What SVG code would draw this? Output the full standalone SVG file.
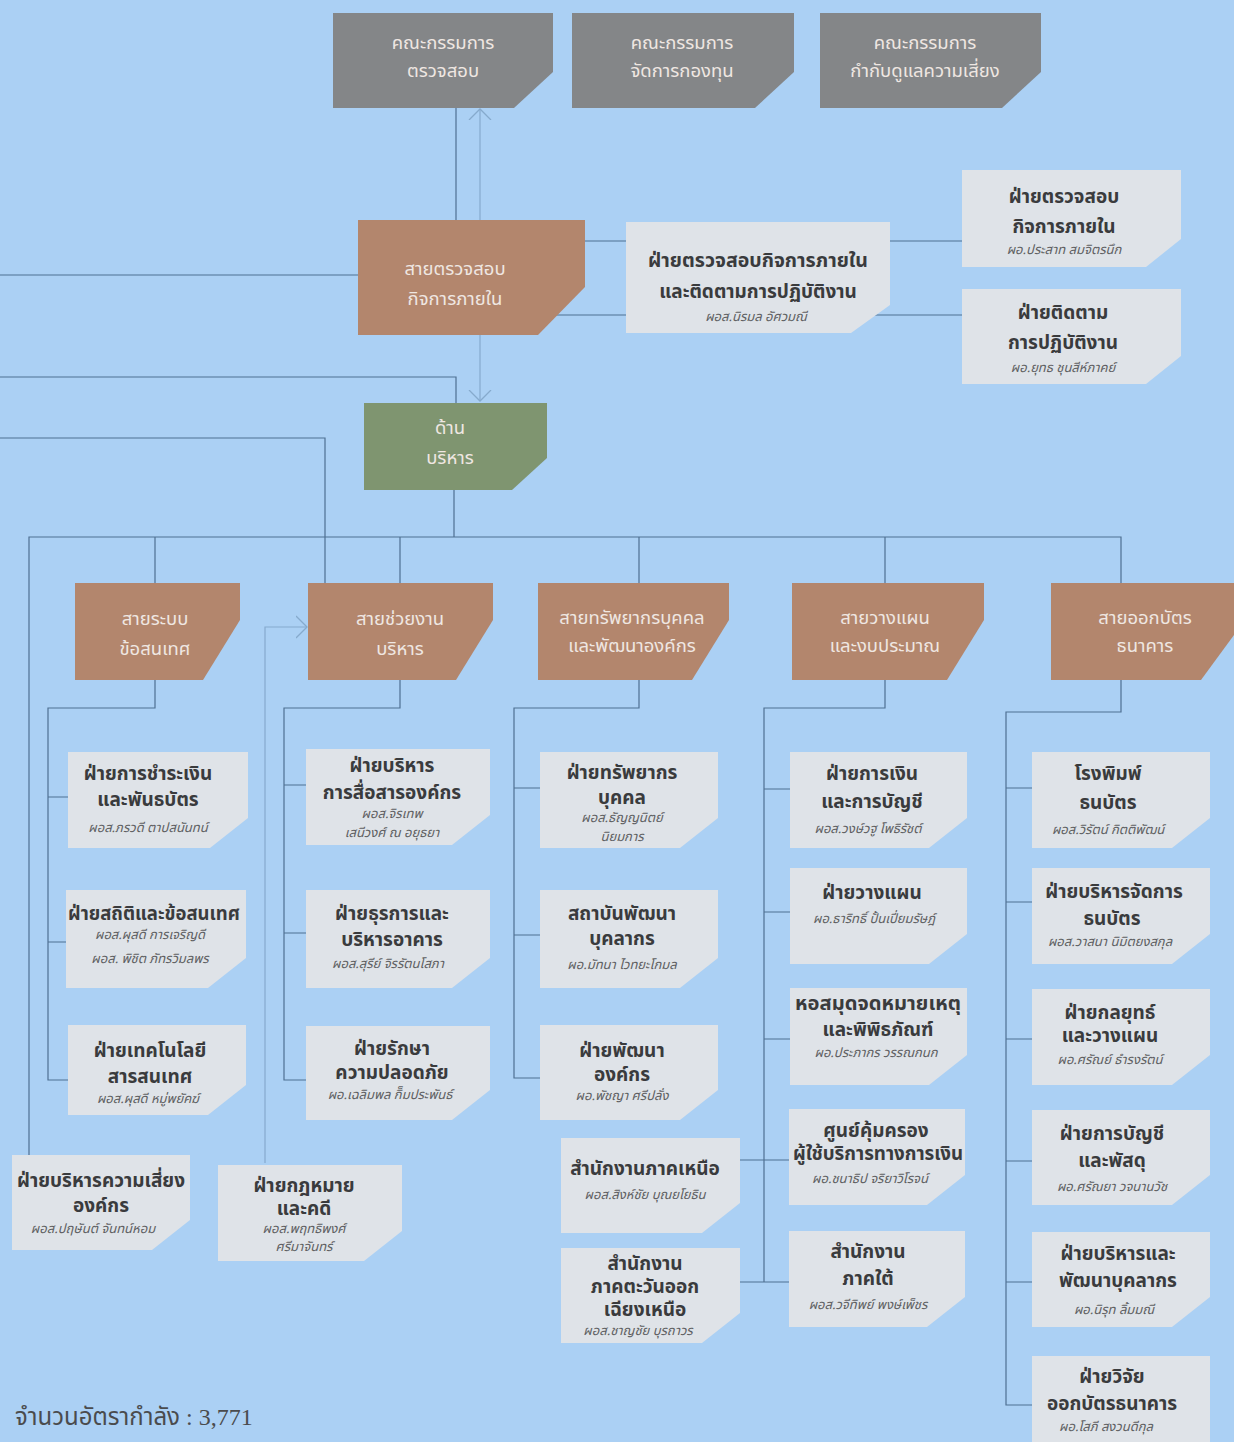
<svg xmlns="http://www.w3.org/2000/svg" width="1234" height="1442" viewBox="0 0 1234 1442">
<defs>
<style>
.gray{fill:#848688}
.brown{fill:#b3866d}
.green{fill:#7f9570}
.light{fill:#dfe3e8}
.conn{stroke:#4f7092;stroke-width:1.2;fill:none}
.conn2{stroke:#86aacd;stroke-width:1.2;fill:none}
text{font-family:"Noto Sans Thai","Noto Sans","DejaVu Sans",sans-serif;text-anchor:middle}
.tw{font-size:18.5px;fill:#efe7e2}
.tt{font-size:19px;fill:#3a3b3d;font-weight:bold}
.tn{font-size:13px;fill:#5e5f62;font-style:italic}
.foot{font-family:"Liberation Serif","Noto Sans Thai",serif;font-size:24px;fill:#4a4b4d;text-anchor:start}
</style>
<marker id="chev" viewBox="0 0 12 24" refX="11" refY="12" markerWidth="12" markerHeight="24" markerUnits="userSpaceOnUse" orient="auto-start-reverse">
<path d="M0,1 L11,12 L0,23" fill="none" stroke="#86aacd" stroke-width="1.3"/>
</marker>
</defs>
<rect width="1234" height="1442" fill="#abd0f4"/>

<g id="connectors">
<path class="conn" d="M456,108 V220"/>
<path class="conn2" d="M480,109 V401" marker-start="url(#chev)" marker-end="url(#chev)"/>
<path class="conn" d="M0,275 H358"/>
<path class="conn" d="M0,377 H456 V403"/>
<path class="conn" d="M0,438 H325 V583"/>
<path class="conn" d="M540,241 H626 M540,315 H626"/>
<path class="conn" d="M880,241 H962 M820,315 H962"/>
<path class="conn" d="M454,490 V537 M29,1155 V537 H1121 V583 M155,537 V583 M400,537 V583 M639,537 V583 M885,537 V583"/>
<path class="conn2" d="M265,1163 V627 H307" marker-end="url(#chev)"/>
<path class="conn" d="M155,680 V708 H48 V1080 H68 M48,797 H68 M48,942 H68"/>
<path class="conn" d="M400,680 V708 H284 V1080 H306 M284,785 H306 M284,933 H306"/>
<path class="conn" d="M639,680 V708 H514 V1078 H540 M514,788 H540 M514,935 H540"/>
<path class="conn" d="M885,680 V708 H764 V1282 M764,789 H790 M764,912 H790 M764,1039 H790 M740,1160 H789 M740,1282 H789"/>
<path class="conn" d="M1121,680 V712 H1006 V1405 H1032 M1006,788 H1032 M1006,902 H1032 M1006,1039 H1032 M1006,1161 H1032 M1006,1282 H1032"/>
</g>

<g id="n-audit-committee">
<polygon class="gray" points="333,13 553,13 553,72 514,108 333,108"/>
<text class="tw" x="443" y="49">คณะกรรมการ</text>
<text class="tw" x="443" y="77">ตรวจสอบ</text>
</g>
<g id="n-fund-committee">
<polygon class="gray" points="572,13 794,13 794,72 755,108 572,108"/>
<text class="tw" x="682" y="49">คณะกรรมการ</text>
<text class="tw" x="682" y="77">จัดการกองทุน</text>
</g>
<g id="n-risk-committee">
<polygon class="gray" points="820,13 1041,13 1041,72 1002,108 820,108"/>
<text class="tw" x="925" y="49">คณะกรรมการ</text>
<text class="tw" x="925" y="77">กำกับดูแลความเสี่ยง</text>
</g>

<g id="n-internal-audit-line">
<polygon class="brown" points="358,220 585,220 585,287 538,335 358,335"/>
<text class="tw" x="455" y="275">สายตรวจสอบ</text>
<text class="tw" x="455" y="305">กิจการภายใน</text>
</g>
<g id="n-audit-dept">
<polygon class="light" points="626,222 890,222 890,305 851,333 626,333"/>
<text class="tt" x="758" y="267" textLength="220" lengthAdjust="spacingAndGlyphs">ฝ่ายตรวจสอบกิจการภายใน</text>
<text class="tt" x="758" y="298">และติดตามการปฏิบัติงาน</text>
<text class="tn" x="756" y="321">ผอส.นิรมล อัศวมณี</text>
</g>
<g id="n-audit-sub">
<polygon class="light" points="962,170 1181,170 1181,239 1146,267 962,267"/>
<text class="tt" x="1064" y="203">ฝ่ายตรวจสอบ</text>
<text class="tt" x="1064" y="233">กิจการภายใน</text>
<text class="tn" x="1064" y="254">ผอ.ประสาท สมจิตรนึก</text>
</g>
<g id="n-follow-sub">
<polygon class="light" points="962,289 1181,289 1181,356 1146,384 962,384"/>
<text class="tt" x="1063" y="319">ฝ่ายติดตาม</text>
<text class="tt" x="1063" y="349">การปฏิบัติงาน</text>
<text class="tn" x="1063" y="372">ผอ.ยุทธ ชุนสีห์ภาคย์</text>
</g>

<g id="n-admin">
<polygon class="green" points="364,403 547,403 547,458 512,490 364,490"/>
<text class="tw" x="450" y="434">ด้าน</text>
<text class="tw" x="450" y="464">บริหาร</text>
</g>

<g id="n-it-line">
<polygon class="brown" points="75,583 240,583 240,620 203,680 75,680"/>
<text class="tw" x="155" y="625">สายระบบ</text>
<text class="tw" x="155" y="655">ข้อสนเทศ</text>
</g>
<g id="n-support-line">
<polygon class="brown" points="308,583 493,583 493,620 456,680 308,680"/>
<text class="tw" x="400" y="625">สายช่วยงาน</text>
<text class="tw" x="400" y="655">บริหาร</text>
</g>
<g id="n-hr-line">
<polygon class="brown" points="538,583 729,583 729,620 692,680 538,680"/>
<text class="tw" x="632" y="624">สายทรัพยากรบุคคล</text>
<text class="tw" x="632" y="652">และพัฒนาองค์กร</text>
</g>
<g id="n-plan-line">
<polygon class="brown" points="792,583 984,583 984,620 947,680 792,680"/>
<text class="tw" x="885" y="624">สายวางแผน</text>
<text class="tw" x="885" y="652">และงบประมาณ</text>
</g>
<g id="n-note-line">
<polygon class="brown" points="1051,583 1234,583 1234,635 1201,680 1051,680"/>
<text class="tw" x="1145" y="624">สายออกบัตร</text>
<text class="tw" x="1145" y="652">ธนาคาร</text>
</g>

<g id="n-payment">
<polygon class="light" points="68,752 248,752 248,818 210,848 68,848"/>
<text class="tt" x="148" y="780">ฝ่ายการชำระเงิน</text>
<text class="tt" x="148" y="806">และพันธบัตร</text>
<text class="tn" x="148" y="832">ผอส.ภรวดี ตาปสนันทน์</text>
</g>
<g id="n-stats">
<polygon class="light" points="66,890 246,890 246,958 208,988 66,988"/>
<text class="tt" x="154" y="920" textLength="172" lengthAdjust="spacingAndGlyphs">ฝ่ายสถิติและข้อสนเทศ</text>
<text class="tn" x="150" y="939">ผอส.ผุสดี การเจริญดี</text>
<text class="tn" x="150" y="963">ผอส. พิชิต ภัทรวิมลพร</text>
</g>
<g id="n-itdept">
<polygon class="light" points="68,1025 246,1025 246,1085 208,1115 68,1115"/>
<text class="tt" x="150" y="1057">ฝ่ายเทคโนโลยี</text>
<text class="tt" x="150" y="1083">สารสนเทศ</text>
<text class="tn" x="148" y="1103">ผอส.ผุสดี หมู่พยัคฆ์</text>
</g>

<g id="n-comm">
<polygon class="light" points="306,749 490,749 490,815 452,845 306,845"/>
<text class="tt" x="392" y="772">ฝ่ายบริหาร</text>
<text class="tt" x="392" y="799">การสื่อสารองค์กร</text>
<text class="tn" x="392" y="818">ผอส.จิรเทพ</text>
<text class="tn" x="392" y="837">เสนีวงศ์ ณ อยุธยา</text>
</g>
<g id="n-general">
<polygon class="light" points="306,890 490,890 490,958 452,988 306,988"/>
<text class="tt" x="392" y="920">ฝ่ายธุรการและ</text>
<text class="tt" x="392" y="946">บริหารอาคาร</text>
<text class="tn" x="388" y="968">ผอส.สุรีย์ จิรรัตนโสภา</text>
</g>
<g id="n-security">
<polygon class="light" points="306,1026 490,1026 490,1090 452,1120 306,1120"/>
<text class="tt" x="392" y="1055">ฝ่ายรักษา</text>
<text class="tt" x="392" y="1079">ความปลอดภัย</text>
<text class="tn" x="390" y="1099">ผอ.เฉลิมพล กิ็มประพันธ์</text>
</g>

<g id="n-hrdept">
<polygon class="light" points="540,752 718,752 718,818 680,848 540,848"/>
<text class="tt" x="622" y="779">ฝ่ายทรัพยากร</text>
<text class="tt" x="622" y="804">บุคคล</text>
<text class="tn" x="622" y="822">ผอส.ธัญญนิตย์</text>
<text class="tn" x="622" y="841">นิยมการ</text>
</g>
<g id="n-institute">
<polygon class="light" points="540,890 718,890 718,958 680,988 540,988"/>
<text class="tt" x="622" y="920">สถาบันพัฒนา</text>
<text class="tt" x="622" y="945">บุคลากร</text>
<text class="tn" x="622" y="969">ผอ.มัทนา ไวทยะโกมล</text>
</g>
<g id="n-orgdev">
<polygon class="light" points="540,1025 718,1025 718,1090 680,1120 540,1120"/>
<text class="tt" x="622" y="1057">ฝ่ายพัฒนา</text>
<text class="tt" x="622" y="1081">องค์กร</text>
<text class="tn" x="622" y="1100">ผอ.พัชญา ศรีปลั่ง</text>
</g>

<g id="n-finance">
<polygon class="light" points="790,752 967,752 967,818 929,848 790,848"/>
<text class="tt" x="872" y="780">ฝ่ายการเงิน</text>
<text class="tt" x="872" y="808">และการบัญชี</text>
<text class="tn" x="868" y="833">ผอส.วงษ์วฐู โพธิรัชต์</text>
</g>
<g id="n-planning">
<polygon class="light" points="790,868 967,868 967,934 929,964 790,964"/>
<text class="tt" x="872" y="899">ฝ่ายวางแผน</text>
<text class="tn" x="874" y="923">ผอ.ธาริทธิ์ ปั้นเปี่ยมรัษฎ์</text>
</g>
<g id="n-archives">
<polygon class="light" points="790,988 967,988 967,1055 929,1085 790,1085"/>
<text class="tt" x="878" y="1010" textLength="166" lengthAdjust="spacingAndGlyphs">หอสมุดจดหมายเหตุ</text>
<text class="tt" x="878" y="1036">และพิพิธภัณฑ์</text>
<text class="tn" x="876" y="1057">ผอ.ประภากร วรรณกนก</text>
</g>
<g id="n-fcc">
<polygon class="light" points="789,1109 965,1109 965,1175 927,1205 789,1205"/>
<text class="tt" x="876" y="1137">ศูนย์คุ้มครอง</text>
<text class="tt" x="878" y="1160" textLength="170" lengthAdjust="spacingAndGlyphs">ผู้ใช้บริการทางการเงิน</text>
<text class="tn" x="870" y="1183">ผอ.ชนาธิป จริยาวิโรจน์</text>
</g>
<g id="n-south">
<polygon class="light" points="789,1231 965,1231 965,1297 927,1327 789,1327"/>
<text class="tt" x="868" y="1258">สำนักงาน</text>
<text class="tt" x="868" y="1285">ภาคใต้</text>
<text class="tn" x="868" y="1309">ผอส.วจีทิพย์ พงษ์เพ็ชร</text>
</g>
<g id="n-north">
<polygon class="light" points="561,1138 740,1138 740,1203 702,1233 561,1233"/>
<text class="tt" x="645" y="1175">สำนักงานภาคเหนือ</text>
<text class="tn" x="645" y="1199">ผอส.สิงห์ชัย บุณยโยธิน</text>
</g>
<g id="n-northeast">
<polygon class="light" points="561,1248 740,1248 740,1313 702,1343 561,1343"/>
<text class="tt" x="645" y="1270">สำนักงาน</text>
<text class="tt" x="645" y="1293">ภาคตะวันออก</text>
<text class="tt" x="645" y="1316">เฉียงเหนือ</text>
<text class="tn" x="638" y="1335">ผอส.ชาญชัย บุรถาวร</text>
</g>

<g id="n-printing">
<polygon class="light" points="1032,752 1210,752 1210,818 1172,848 1032,848"/>
<text class="tt" x="1108" y="780">โรงพิมพ์</text>
<text class="tt" x="1108" y="809">ธนบัตร</text>
<text class="tn" x="1108" y="834">ผอส.วิรัตน์ กิตติพัฒน์</text>
</g>
<g id="n-notemgmt">
<polygon class="light" points="1032,868 1210,868 1210,934 1172,964 1032,964"/>
<text class="tt" x="1114" y="898">ฝ่ายบริหารจัดการ</text>
<text class="tt" x="1112" y="925">ธนบัตร</text>
<text class="tn" x="1110" y="946">ผอส.วาสนา นิมิตยงสกุล</text>
</g>
<g id="n-strategy">
<polygon class="light" points="1032,989 1210,989 1210,1055 1172,1085 1032,1085"/>
<text class="tt" x="1110" y="1019">ฝ่ายกลยุทธ์</text>
<text class="tt" x="1110" y="1042">และวางแผน</text>
<text class="tn" x="1110" y="1064">ผอ.ศรัณย์ ธำรงรัตน์</text>
</g>
<g id="n-accounting">
<polygon class="light" points="1032,1110 1210,1110 1210,1175 1172,1205 1032,1205"/>
<text class="tt" x="1112" y="1140">ฝ่ายการบัญชี</text>
<text class="tt" x="1112" y="1167">และพัสดุ</text>
<text class="tn" x="1112" y="1191">ผอ.ศรัณยา วจนานวัช</text>
</g>
<g id="n-hrmgmt">
<polygon class="light" points="1032,1232 1210,1232 1210,1297 1172,1327 1032,1327"/>
<text class="tt" x="1118" y="1260">ฝ่ายบริหารและ</text>
<text class="tt" x="1118" y="1287">พัฒนาบุคลากร</text>
<text class="tn" x="1114" y="1314">ผอ.นิรุท ลิ้มมณี</text>
</g>
<g id="n-research">
<polygon class="light" points="1032,1356 1210,1356 1210,1442 1032,1442"/>
<text class="tt" x="1112" y="1383">ฝ่ายวิจัย</text>
<text class="tt" x="1112" y="1410">ออกบัตรธนาคาร</text>
<text class="tn" x="1106" y="1431">ผอ.โสภี สงวนดีกุล</text>
</g>

<g id="n-riskmgmt">
<polygon class="light" points="12,1155 190,1155 190,1220 152,1250 12,1250"/>
<text class="tt" x="101" y="1187" textLength="168" lengthAdjust="spacingAndGlyphs">ฝ่ายบริหารความเสี่ยง</text>
<text class="tt" x="101" y="1212">องค์กร</text>
<text class="tn" x="93" y="1233">ผอส.ปฤษันต์ จันทน์หอม</text>
</g>
<g id="n-legal">
<polygon class="light" points="218,1165 402,1165 402,1231 364,1261 218,1261"/>
<text class="tt" x="304" y="1192">ฝ่ายกฎหมาย</text>
<text class="tt" x="304" y="1215">และคดี</text>
<text class="tn" x="304" y="1233">ผอส.พฤทธิพงศ์</text>
<text class="tn" x="304" y="1251">ศรีมาจันทร์</text>
</g>

<text class="foot" x="15" y="1425">จำนวนอัตรากำลัง : 3,771</text>
</svg>
